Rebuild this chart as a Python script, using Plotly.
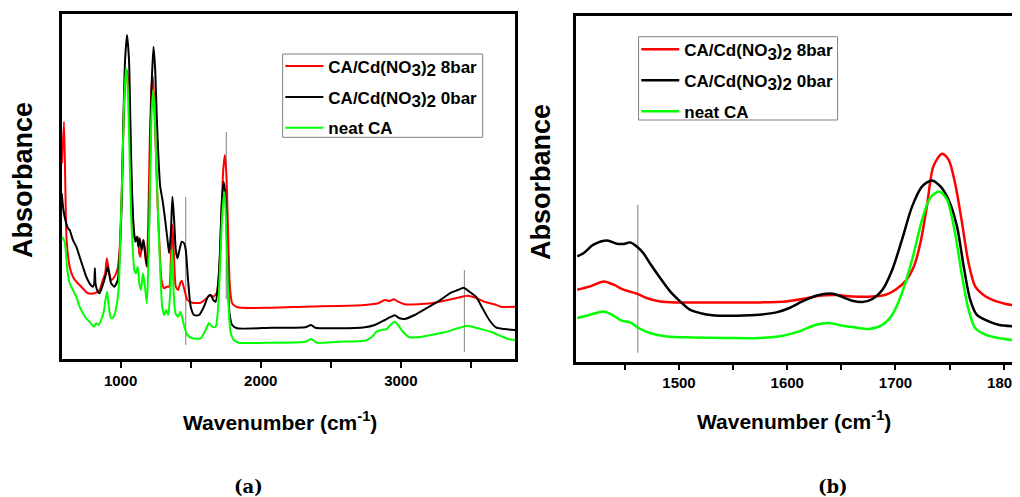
import plotly.graph_objects as go

# ---------------- Panel (a): full FTIR spectra ----------------
wn_red_a = [582, 596, 605.7, 615, 636.5, 660, 684, 719, 766.7, 814, 849.5, 873, 890, 901.6, 915.8,
            932.4, 956, 979.7, 994, 1008, 1020, 1032, 1046, 1060, 1072, 1084, 1098, 1110, 1122,
            1133.6, 1140.7, 1152.5, 1162, 1174, 1185.7, 1197.5, 1209, 1221, 1230.6, 1240, 1252,
            1263.8, 1278, 1292, 1311, 1330, 1346.6, 1358.5, 1370, 1382, 1394, 1410.5, 1424.7,
            1436.6, 1453, 1476.8, 1512, 1571.5, 1614, 1637.8, 1661.4, 1685, 1704, 1718, 1732.4,
            1744, 1756, 1768, 1780, 1796, 1832, 2080, 2317, 2554, 2743, 2838, 2885, 2920, 2951,
            2980, 3027, 3122, 3216, 3311, 3406, 3477, 3524, 3595, 3666, 3713, 3815]
abs_red_a = [195.7, 237.3, 172.3, 119, 92.3, 82.3, 77.3, 72.3, 65.7, 65.7, 69, 79, 85.7, 100.7, 89,
             79, 82.3, 90.7, 112.3, 165.7, 232.3, 272.3, 289, 262.3, 205.7, 152.3, 122.3, 119, 122.3,
             105.7, 102.3, 112.3, 119, 105.7, 92.3, 139, 222.3, 272.3, 282.3, 255.7, 205.7,
             155.7, 112.3, 79, 70.7, 72.3, 72.3, 99, 134, 99, 72.3, 69, 75.7,
             78.3, 70.7, 59, 56.3, 56.3, 60.7, 64, 62.3, 65.7, 89, 139, 189,
             204, 182.3, 122.3, 72.3, 55.7, 51.7, 51.3, 52.3, 53.0, 54.0, 55.7, 59.0, 58.0, 59.7,
             57.3, 54.7, 54.7, 55.7, 58.3, 61.3, 63.3, 61.7, 57.3, 54.7, 52.3, 52.3]

wn_black_a = [580, 592, 606, 625, 636.5, 660, 684, 707.5, 731, 755, 778.5, 802, 811.7, 816.4, 821,
              830.6, 849.5, 873, 897, 908.7, 932.4, 956, 979.7, 994, 1008, 1020, 1032, 1046, 1060,
              1069.7, 1079, 1093, 1105, 1117, 1126.5, 1136, 1150, 1164, 1181, 1193, 1202, 1211.7,
              1221, 1235, 1247, 1259, 1271, 1282.7, 1299, 1318, 1335, 1346.6, 1358.5, 1370, 1382,
              1394, 1406, 1420, 1436.6, 1453, 1465, 1481.5, 1500.5, 1524, 1559.6, 1595, 1623.6,
              1642.5, 1661.4, 1678, 1694.6, 1708.8, 1720.6, 1734.8, 1746.6, 1756, 1765.6, 1777.4,
              1796, 1832, 2080, 2317, 2360, 2388, 2554, 2743, 2814, 2885, 2932, 2956, 2991, 3027,
              3098, 3169, 3264, 3358, 3406, 3448, 3489, 3536, 3583, 3631, 3678, 3737, 3815]
abs_black_a = [165.7, 149, 139, 130.7, 129, 119, 112.3, 102.3, 92.3, 82.3, 75.7, 72.3, 75.7, 90.7, 75.7,
               69.7, 65.7, 74, 85.7, 92.3, 75.7, 72.3, 79, 105.7, 155.7, 239, 299, 324, 299,
               239, 179, 132.3, 117.3, 122.3, 112.3, 120.7, 109, 119, 99, 92.3, 122.3, 205.7,
               272.3, 312.3, 289, 239, 199, 172.3, 159, 139, 119, 105.7, 125.7, 162.3, 139,
               109, 100.7, 109, 117.3, 115.7, 109, 79, 52.3, 44, 44, 52.3, 62.3,
               64, 59, 57.3, 72.3, 105.7, 152.3, 177.3, 165.7, 139, 79, 45.7,
               34, 30.7, 31.3, 31.7, 34.0, 31.3, 30.7, 31.7, 34.0, 39.0, 42.3, 43.7, 40.7, 40.0,
               44.0, 49.7, 57.3, 66.3, 69.0, 71.3, 67.3, 62.3, 50.7, 39.0, 31.7, 30.0, 29.0]

wn_green_a = [582, 601, 620, 636.5, 660, 684, 707.5, 731, 755, 778.5, 809, 826, 842.4, 861, 880, 892,
              904, 915.8, 932.4, 951, 970, 987, 998.7, 1013, 1024.7, 1039, 1050.7, 1062.6, 1074.4,
              1088.6, 1098, 1110, 1122, 1133.6, 1145.4, 1159.6, 1174, 1188, 1200, 1211.7, 1221,
              1233, 1245, 1256.7, 1268.5, 1282.7, 1297, 1311, 1325, 1339.5, 1353.7, 1368, 1377,
              1391.6, 1410.5, 1427, 1441, 1458, 1476.8, 1512, 1571.5, 1607, 1630.6, 1654, 1678,
              1694.6, 1708.8, 1723, 1734, 1742, 1752, 1761, 1770, 1784.5, 1808, 1843.7, 2080, 2317,
              2360, 2400, 2554, 2743, 2790, 2826, 2861, 2897, 2932, 2956, 2980, 3015, 3062, 3122,
              3216, 3311, 3406, 3477, 3548, 3642, 3713, 3773, 3815]
abs_green_a = [122.3, 117.3, 89, 75.7, 69, 62.3, 52.3, 45.7, 40.7, 37.3, 32.3, 35.7, 34, 39, 47.3, 59,
               67.3, 52.3, 40.7, 42.3, 52.3, 72.3, 122.3, 189, 255.7, 290.7, 272.3, 212.3, 145.7,
               105.7, 89, 85.7, 92.3, 75.7, 69, 85.7, 72.3, 55.7, 105.7, 189, 245.7,
               269, 239, 189, 139, 89, 52.3, 44, 49, 44, 65.7, 109, 72.3,
               45.7, 42.3, 47.3, 40.7, 30.7, 24, 20.7, 20.7, 29, 35.7, 32.3, 32.3,
               49, 89, 139, 160, 167, 140, 95, 55.7, 27.3, 19, 16.3, 16.3, 17.3,
               20.0, 16.3, 17.3, 18.3, 21.7, 27.3, 29.0, 29.7, 35.0, 37.3, 34.0, 27.3, 21.7, 21.7,
               24.0, 26.7, 30.7, 33.3, 30.7, 27.3, 23.0, 19.7, 19.0]

# marker lines in panel (a): wavenumber, lower and upper absorbance
mark_wn_a = [1465, 1754, 3453]
mark_lo_a = [14, 60, 7]
mark_hi_a = [162, 227, 89]

# ---------------- Panel (b): 1405-1810 cm-1 region ----------------
wn_red_b = [1406, 1418, 1430.5, 1439.7, 1448.9, 1461, 1470, 1482.6, 1498, 1528.5, 1574.5, 1599, 1614,
            1629.6, 1645, 1660, 1678.7, 1691, 1700, 1709, 1717, 1723, 1729, 1735, 1743, 1749, 1755,
            1761, 1767.5, 1773.6, 1781, 1789, 1801, 1811]
abs_red_b = [72, 75.3, 80.3, 77, 72, 68, 63.7, 60.3, 59.3, 59.3, 59.3, 60.3, 62.7,
             66, 66.7, 65.3, 65.3, 67, 72, 80.3, 95.3, 118.7, 155.3, 195.3, 208, 202, 178.7,
             142, 98.7, 75.3, 67, 62, 58, 56]

wn_black_b = [1406, 1412, 1421, 1433.5, 1442.7, 1448.9, 1455, 1461, 1467, 1473, 1482.6, 1491.8, 1501,
              1510, 1522, 1537.7, 1553, 1574.5, 1590, 1602, 1614, 1626.6, 1642, 1651, 1660, 1669.5,
              1678.7, 1688, 1697, 1706, 1715.4, 1724.6, 1733.8, 1741.5, 1749, 1756.8, 1763, 1769,
              1775, 1784, 1795, 1811]
abs_black_b = [105.3, 108.7, 117, 121.3, 118, 117.7, 119.3, 115.3, 108.7, 98.7, 83.7, 70.3, 60.3,
               52, 48, 46, 46, 47, 49.3, 53.7, 60.3, 66, 68, 64.7, 61, 59.7,
               62.7, 72, 92, 122, 155.3, 175.3, 181.3, 175.3, 162, 135.3, 95.3, 62,
               47, 41.3, 37, 35.3]

wn_green_b = [1406, 1418, 1430.5, 1438, 1447, 1455, 1462.6, 1473, 1488.7, 1513, 1544, 1574.5, 1596,
              1611, 1626.6, 1639, 1651, 1663, 1675.6, 1688, 1697, 1706, 1715.4, 1724.6, 1732, 1740.5,
              1747.6, 1755, 1761, 1767.5, 1773.6, 1783, 1795, 1811]
abs_green_b = [43.7, 47, 50.3, 47, 41, 39.3, 33.7, 28.7, 25.3, 24.3, 23.7, 23.7, 26,
               30.3, 37, 38.7, 36, 34.3, 32.7, 37, 47, 68.7, 102, 142, 163.7, 170.3,
               162, 128.7, 88.7, 52, 33.7, 27, 23.7, 21.3]

mark_wn_b = [1462]
mark_lo_b = [9]
mark_hi_b = [157]

SUB = '<sub><span style="font-size:17px">%s</span></sub>'
names = ["CA/Cd(NO" + SUB % "3" + ")" + SUB % "2" + " 8bar",
         "CA/Cd(NO" + SUB % "3" + ")" + SUB % "2" + " 0bar",
         "neat CA"]
colors = ["#ff0000", "#000000", "#00ff00"]

FONT = "Liberation Sans, Arial, sans-serif"

# the page body adds an 8px margin; the figure is sized so that it ends at the window edge
OFF = 8
W, H = 1020 - OFF, 497 - OFF


def fx(p):
    return (p - OFF) / W


def fy(p):
    return 1 - (p - OFF) / H


fig = go.Figure()

series_a = [(wn_red_a, abs_red_a), (wn_black_a, abs_black_a), (wn_green_a, abs_green_a)]
series_b = [(wn_red_b, abs_red_b), (wn_black_b, abs_black_b), (wn_green_b, abs_green_b)]

# marker lines
for w, lo, hi in zip(mark_wn_a, mark_lo_a, mark_hi_a):
    fig.add_trace(go.Scatter(x=[w, w], y=[lo, hi], mode="lines", line=dict(color="#808080", width=1),
                             showlegend=False, hoverinfo="skip", xaxis="x", yaxis="y"))
for w, lo, hi in zip(mark_wn_b, mark_lo_b, mark_hi_b):
    fig.add_trace(go.Scatter(x=[w, w], y=[lo, hi], mode="lines", line=dict(color="#808080", width=1),
                             showlegend=False, hoverinfo="skip", xaxis="x2", yaxis="y2"))

for i, ((xa, ya), name, col) in enumerate(zip(series_a, names, colors)):
    fig.add_trace(go.Scatter(x=xa, y=ya, mode="lines", name=name,
                             line=dict(color=col, width=2, shape="spline", smoothing=0.6),
                             legend="legend", legendgroup="a%d" % i, xaxis="x", yaxis="y"))
for i, ((xb, yb), name, col) in enumerate(zip(series_b, names, colors)):
    fig.add_trace(go.Scatter(x=xb, y=yb, mode="lines", name=name,
                             line=dict(color=col, width=2.5, shape="spline", smoothing=0.8),
                             legend="legend2", legendgroup="b%d" % i, xaxis="x2", yaxis="y2"))

axis_common = dict(showline=True, linecolor="black", linewidth=2.5, showgrid=False, zeroline=False)
tickfont = dict(family=FONT, size=15, color="black", weight="bold")

legend_common = dict(bgcolor="rgba(0,0,0,0)", borderwidth=0,
                     font=dict(family=FONT, size=17, color="black", weight="bold"),
                     xanchor="left", yanchor="top", traceorder="grouped", tracegroupgap=5.8,
                     itemwidth=38)

fig.update_layout(
    width=W, height=H,
    margin=dict(l=0, r=0, t=0, b=0),
    paper_bgcolor="white", plot_bgcolor="white",
    xaxis=dict(domain=[fx(62), fx(517.6)], range=[580, 3815], anchor="y", mirror=True,
               ticks="outside", ticklen=6, tickwidth=2, tickcolor="black",
               tick0=0, dtick=1000, tickfont=tickfont,
               minor=dict(dtick=500, ticks="outside", ticklen=6, tickwidth=2, tickcolor="black"),
               **axis_common),
    yaxis=dict(domain=[fy(359), fy(14)], range=[0, 345], anchor="x", mirror=True,
               showticklabels=False, ticks="", **axis_common),
    xaxis2=dict(domain=[fx(579.3), 1.0], range=[1405.3, 1810.4], anchor="y2", mirror=True,
                ticks="outside", ticklen=6, tickwidth=2, tickcolor="black",
                tick0=1500, dtick=100, tickfont=tickfont, ticklabeloverflow="allow",
                minor=dict(dtick=50, ticks="outside", ticklen=6, tickwidth=2, tickcolor="black"),
                **axis_common),
    yaxis2=dict(domain=[fy(361.7), fy(15.7)], range=[0, 346], anchor="x2", mirror=False,
                showticklabels=False, ticks="", **axis_common),
    legend=dict(x=fx(281.7), y=fy(48.5), **legend_common),
    legend2=dict(x=fx(639.4), y=fy(31.8), **legend_common),
    showlegend=True,
)

# legend frames
for (x0, y0, x1, y1) in [(284, 54, 485, 137.3), (641.7, 36.7, 841.7, 120)]:
    fig.add_shape(type="rect", xref="paper", yref="paper", x0=fx(x0), x1=fx(x1), y0=fy(y1), y1=fy(y0),
                  line=dict(color="#808080", width=1), fillcolor="white", layer="below")

title_font = dict(family=FONT, size=21, color="black", weight="bold")
ylab_font = dict(family=FONT, size=27, color="black", weight="bold")
panel_font = dict(family="DejaVu Serif, serif", size=18, color="black", weight="bold")

annotations = [
    dict(text="Absorbance", x=fx(23), y=fy(180), textangle=-90, font=ylab_font),
    dict(text="Absorbance", x=fx(543), y=fy(181.7), textangle=-90, font=ylab_font),
    dict(text="Wavenumber (cm<sup>-1</sup>)", x=fx(281), y=fy(421), font=title_font),
    dict(text="Wavenumber (cm<sup>-1</sup>)", x=fx(798), y=fy(420), font=title_font),
    dict(text="(a)", x=fx(249.2), y=fy(486), font=panel_font),
    dict(text="(b)", x=fx(836.7), y=fy(486), font=panel_font),
]
for a in annotations:
    fig.add_annotation(xref="paper", yref="paper", xanchor="center", yanchor="middle",
                       showarrow=False, **a)

fig.write_html("out.html")
